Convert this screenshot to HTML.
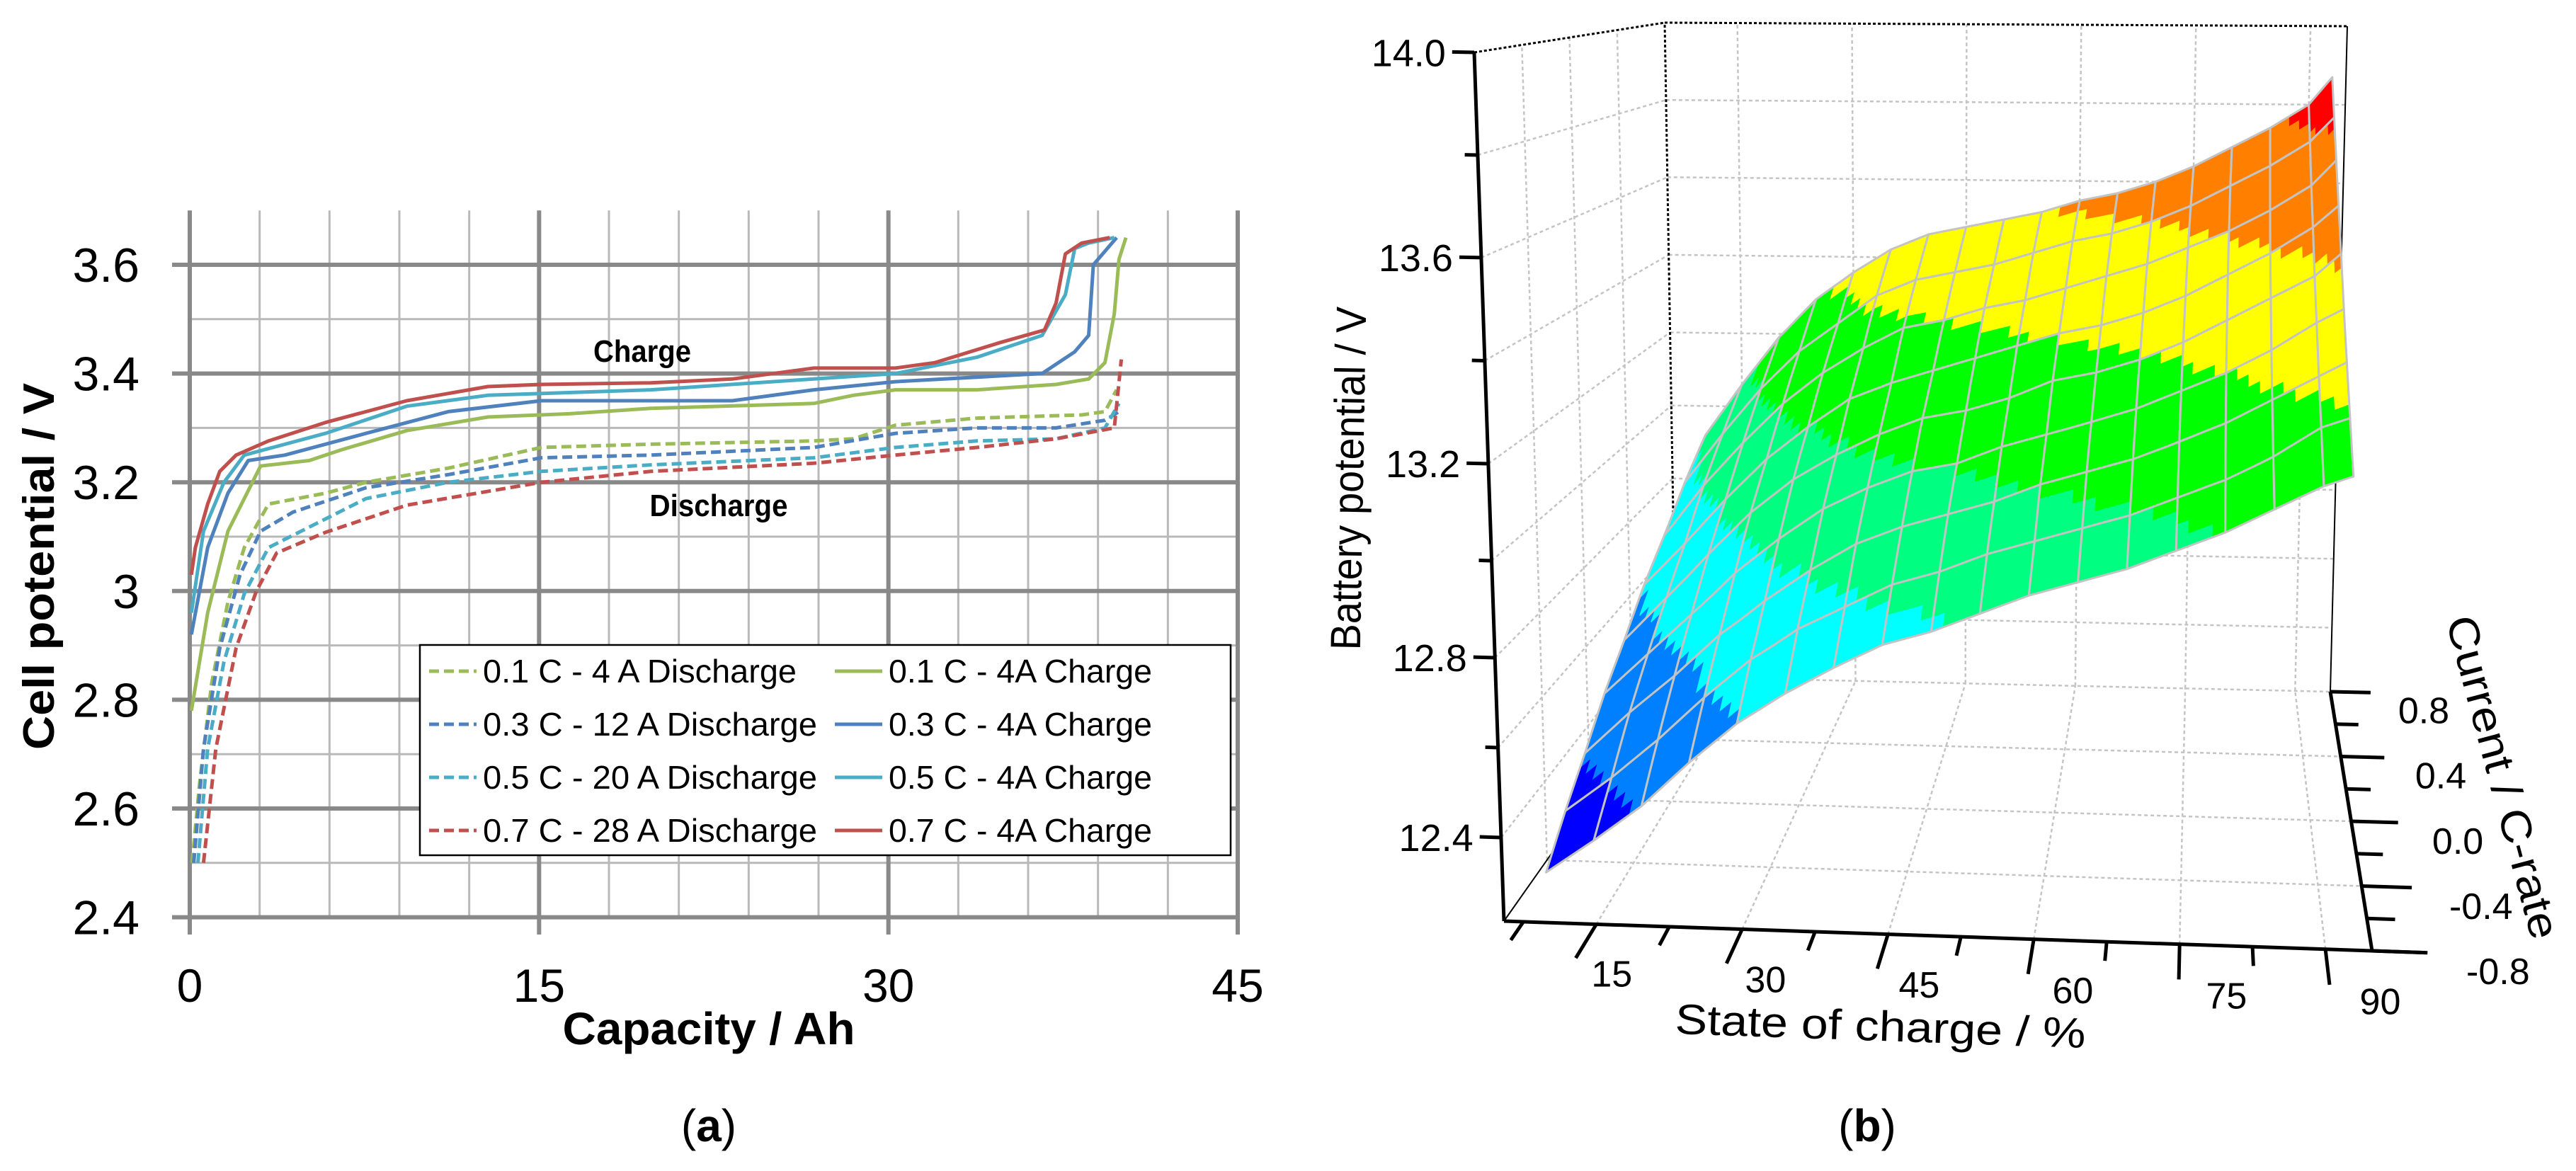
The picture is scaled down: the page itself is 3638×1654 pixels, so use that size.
<!DOCTYPE html>
<html><head><meta charset="utf-8"><style>
html,body{margin:0;padding:0;background:#fff;}
svg{display:block;}
text{font-family:"Liberation Sans",sans-serif;fill:#000;}
</style></head>
<body>
<svg id="fig" width="3638" height="1654" viewBox="0 0 3638 1654" xmlns="http://www.w3.org/2000/svg">
<rect width="3638" height="1654" fill="#fff"/>
<g id="chartA"></g>
<g id="chartB"></g>
</svg>
<script>
// ================= Chart (a) data =================
const chg01Ah=[0.07,0.77,1.64,3.04,5.13,6.53,9.32,12.8,16.3,19.8,26.8,28.5,30.3,33.8,37.2,38.6,39.3,39.7,39.9,40.2];
const chg01V=[2.78,2.96,3.11,3.23,3.24,3.26,3.295,3.32,3.326,3.336,3.345,3.36,3.37,3.37,3.38,3.39,3.42,3.51,3.61,3.65];
const chg03Ah=[0.07,0.77,1.64,2.51,4.08,7.57,11.1,15.1,23.3,26.8,30.3,36.6,38.0,38.6,38.8,39.4,39.8];
const chg03V=[2.92,3.08,3.18,3.24,3.25,3.29,3.33,3.35,3.35,3.37,3.385,3.40,3.44,3.47,3.6,3.63,3.65];
const chg05Ah=[0.07,0.59,1.47,2.34,5.83,9.32,12.8,19.8,26.8,30.3,33.8,36.6,37.6,38.0,38.6,39.7];
const chg05V=[2.96,3.11,3.2,3.25,3.29,3.34,3.36,3.37,3.39,3.40,3.43,3.47,3.545,3.63,3.64,3.65];
const chg07Ah=[0.07,0.24,0.77,1.29,1.99,3.38,5.83,9.32,12.8,15.1,19.8,23.3,26.8,30.3,32.0,34.8,36.7,37.2,37.6,38.3,39.5];
const chg07V=[3.03,3.08,3.16,3.22,3.25,3.276,3.31,3.35,3.376,3.38,3.383,3.39,3.41,3.41,3.42,3.457,3.48,3.53,3.62,3.64,3.65];
const dis01Ah=[0.1,0.42,0.94,1.64,2.34,3.38,5.83,7.57,11.1,15.1,19.8,26.8,28.5,30.3,33.8,38.3,39.3,39.8];
const dis01V=[2.5,2.645,2.83,2.98,3.08,3.16,3.18,3.2,3.226,3.264,3.27,3.276,3.28,3.305,3.318,3.324,3.33,3.37];
const dis03Ah=[0.17,0.59,1.29,2.16,3.04,4.43,7.57,11.1,15.1,19.8,26.8,30.3,33.8,37.2,39.3,39.9];
const dis03V=[2.5,2.71,2.895,3.03,3.11,3.145,3.19,3.214,3.245,3.25,3.264,3.29,3.30,3.30,3.314,3.33];
const dis05Ah=[0.35,0.77,1.47,2.34,3.38,4.78,7.57,11.1,15.1,19.8,26.8,30.3,33.8,37.2,39.3,39.9];
const dis05V=[2.5,2.71,2.87,2.995,3.08,3.11,3.17,3.2,3.22,3.232,3.245,3.264,3.276,3.28,3.30,3.345];
const dis07Ah=[0.59,1.12,1.99,2.86,3.73,5.83,9.32,15.1,19.8,26.8,30.3,33.8,37.2,39.7,40.0];
const dis07V=[2.5,2.71,2.895,3.0,3.07,3.108,3.158,3.2,3.22,3.235,3.25,3.264,3.28,3.30,3.426];
const yTickLabels=["2.4","2.6","2.8","3","3.2","3.4","3.6"];
const yTickValues=[2.4,2.6,2.8,3.0,3.2,3.4,3.6];
const xTickLabels=["0","15","30","45"];
const xTickValues=[0,15,30,45];
const legendLabels=["0.1 C - 4 A Discharge","0.3 C - 12 A Discharge","0.5 C - 20 A Discharge","0.7 C - 28 A Discharge","0.1 C - 4A Charge","0.3 C - 4A Charge","0.5 C - 4A Charge","0.7 C - 4A Charge"];

// ================= Chart (b) data =================
const socGrid=[10,15,20,25,30,35,40,45,50,55,60,65,70,75,80,85,90,93];
const cRateGrid=[-0.8,-0.6,-0.4,-0.2,0,0.2,0.4,0.6,0.8];
const voltRowM08=[12.32,12.40,12.48,12.58,12.67,12.74,12.80,12.85,12.88,12.92,12.96,12.99,13.02,13.06,13.10,13.15,13.20,13.22];
const voltRowM06=[12.40,12.48,12.57,12.67,12.76,12.83,12.88,12.93,12.96,13.00,13.03,13.06,13.09,13.13,13.17,13.22,13.28,13.30];
const voltRowM04=[12.47,12.57,12.66,12.76,12.84,12.91,12.97,13.01,13.04,13.07,13.11,13.14,13.17,13.21,13.25,13.30,13.35,13.38];
const voltRowM02=[12.55,12.65,12.75,12.85,12.93,13.00,13.05,13.09,13.11,13.15,13.18,13.21,13.24,13.28,13.32,13.37,13.43,13.46];
const voltRow00=[12.62,12.73,12.84,12.94,13.02,13.08,13.13,13.17,13.19,13.22,13.26,13.28,13.31,13.35,13.40,13.45,13.50,13.55];
const voltRowP02=[12.70,12.81,12.92,13.02,13.10,13.17,13.21,13.24,13.27,13.30,13.33,13.35,13.38,13.42,13.47,13.52,13.58,13.63];
const voltRowP04=[12.77,12.90,13.01,13.11,13.19,13.25,13.30,13.32,13.35,13.37,13.40,13.43,13.46,13.50,13.54,13.59,13.65,13.71];
const voltRowP06=[12.85,12.98,13.10,13.20,13.27,13.34,13.38,13.40,13.42,13.45,13.48,13.50,13.53,13.57,13.62,13.67,13.73,13.79];
const voltRowP08=[12.92,13.06,13.19,13.29,13.36,13.42,13.46,13.48,13.50,13.52,13.55,13.57,13.60,13.64,13.69,13.74,13.80,13.87];
const vAxisLabels=["12.4","12.8","13.2","13.6","14.0"];
const vAxisValues=[12.4,12.8,13.2,13.6,14.0];
const socLabels=["15","30","45","60","75","90"];
const socValues=[15,30,45,60,75,90];
const cRateLabels=["-0.8","-0.4","0.0","0.4","0.8"];
const cRateValues=[-0.8,-0.4,0,0.4,0.8];
const colorLevels=[12.47,12.69,12.90,13.10,13.32,13.53,13.76];

const NS="http://www.w3.org/2000/svg";
function mk(parent,tag,attrs,txt){const e=document.createElementNS(NS,tag);for(const k in attrs)e.setAttribute(k,attrs[k]);if(txt!==undefined)e.textContent=txt;parent.appendChild(e);return e;}

// ---------- Chart (a) ----------
(function(){
const g=document.getElementById('chartA');
const X=a=>268+a*(1480/45);
const Y=v=>374+(3.6-v)*768;
for(let a=3;a<45;a+=3){if(a%15===0)continue;const l=mk(g,'line',{x1:X(a),y1:Y(3.7),x2:X(a),y2:Y(2.4),stroke:'#b9b9b9','stroke-width':3});}
for(let i=0;i<13;i++){const v=2.4+i*0.1;if(i%2===0)continue;const l=mk(g,'line',{x1:X(0),y1:Y(v),x2:X(45),y2:Y(v),stroke:'#b9b9b9','stroke-width':3});}
yTickValues.forEach((v,i)=>{const l=mk(g,'line',{x1:243,y1:Y(v),x2:X(45),y2:Y(v),stroke:'#898989','stroke-width':6});
 const t=mk(g,'text',{x:197,y:Y(v)+24,'font-size':68,'text-anchor':'end'},yTickLabels[i]);});
xTickValues.forEach((a,i)=>{const l=mk(g,'line',{x1:X(a),y1:Y(3.7),x2:X(a),y2:1320,stroke:'#898989','stroke-width':6});
 const t=mk(g,'text',{x:X(a),y:1415,'font-size':66,'text-anchor':'middle'},xTickLabels[i]);});
const series=[[dis01Ah,dis01V,'#9BBB59',true],[dis03Ah,dis03V,'#4F81BD',true],[dis05Ah,dis05V,'#4BACC6',true],[dis07Ah,dis07V,'#C0504D',true],
[chg01Ah,chg01V,'#9BBB59',false],[chg03Ah,chg03V,'#4F81BD',false],[chg05Ah,chg05V,'#4BACC6',false],[chg07Ah,chg07V,'#C0504D',false]];
series.forEach((s,k)=>{const pts=s[0].map((a,i)=>X(a).toFixed(1)+','+Y(s[1][i]).toFixed(1)).join(' ');
 const p=mk(g,'polyline',{points:pts,fill:'none',stroke:s[2],'stroke-width':5,'stroke-linejoin':'round','stroke-linecap':'butt'});
 if(s[3])p.setAttribute('stroke-dasharray','14 7');
 });
let t=mk(g,'text',{x:907,y:511,'font-size':44,'font-weight':'bold','text-anchor':'middle',textLength:138,lengthAdjust:'spacingAndGlyphs'},'Charge');
t=mk(g,'text',{x:1015,y:729,'font-size':44,'font-weight':'bold','text-anchor':'middle',textLength:195,lengthAdjust:'spacingAndGlyphs'},'Discharge');
const lg=mk(g,'g',{});
mk(lg,'rect',{x:593,y:911,width:1145,height:297,fill:'#fff',stroke:'#000','stroke-width':2.5});
const rows=[948,1023,1098,1173];
const widths=[443,472,472,472,372,372,372,372];
series.forEach((s,k)=>{const col=k<4?0:1,r=k%4;const lx=col?1179:606,tx=col?1255:682;
 const l=mk(lg,'line',{x1:lx,y1:rows[r],x2:lx+67,y2:rows[r],stroke:s[2],'stroke-width':5});if(s[3])l.setAttribute('stroke-dasharray','14 7');
 
 const tt=mk(lg,'text',{x:tx,y:rows[r]+16,'font-size':46,textLength:widths[k],lengthAdjust:'spacingAndGlyphs'},legendLabels[k]);
 });
t=mk(g,'text',{x:0,y:0,'font-size':62,'font-weight':'bold','text-anchor':'middle',textLength:518,lengthAdjust:'spacingAndGlyphs',transform:'translate(76,800) rotate(-90)'},'Cell potential / V');
t=mk(g,'text',{x:1001,y:1475,'font-size':64,'font-weight':'bold','text-anchor':'middle',textLength:413,lengthAdjust:'spacingAndGlyphs'},'Capacity / Ah');
t=mk(g,'text',{x:1001,y:1612,'font-size':64,'text-anchor':'middle','font-family':'Liberation Serif, serif'});
t.innerHTML='(<tspan font-weight="bold">a</tspan>)';
})();

// ---------- Chart (b) ----------
(function(){
const g=document.getElementById('chartB');
const volt=[voltRowM08,voltRowM06,voltRowM04,voltRowM02,voltRow00,voltRowP02,voltRowP04,voltRowP06,voltRowP08];
const S0=5.5,S1=94.8;
const corner={p000:[2124,1301],p100:[3350,1343],p010:[2367,956],p110:[3291,977],p001:[2082,74],p101:[3348,100],p011:[2351,32],p111:[3315,37]};
const wV=[12.2,12.4,12.8,13.2,13.6,14.0],wP=[0,0.0962,0.3032,0.5265,0.7637,1];
function warp(V){if(V<=wV[0])return (V-12.2)/0.2*0.0962;for(let i=0;i<wV.length-1;i++){if(V<=wV[i+1]){return wP[i]+(V-wV[i])/(wV[i+1]-wV[i])*(wP[i+1]-wP[i]);}}return 1+(V-14)/0.4*0.236;}
function P(s,c,V){const u=(s-S0)/(S1-S0),v=(c+0.8)/1.6,w=warp(V);const r=[0,0];
 const cs=[[corner.p000,(1-u)*(1-v)*(1-w)],[corner.p100,u*(1-v)*(1-w)],[corner.p010,(1-u)*v*(1-w)],[corner.p110,u*v*(1-w)],[corner.p001,(1-u)*(1-v)*w],[corner.p101,u*(1-v)*w],[corner.p011,(1-u)*v*w],[corner.p111,u*v*w]];
 cs.forEach(([p,k])=>{r[0]+=p[0]*k;r[1]+=p[1]*k;});return r;}
function ln(a,b,attrs,name){const l=mk(g,'line',Object.assign({x1:a[0].toFixed(1),y1:a[1].toFixed(1),x2:b[0].toFixed(1),y2:b[1].toFixed(1)},attrs));return l;}
const grid={stroke:'#c4c4c4','stroke-width':2.5,'stroke-dasharray':'5 4'};
socValues.forEach(s=>{ln(P(s,0.8,12.2),P(s,0.8,14),grid,'back-wall-gridline');ln(P(s,-0.8,12.2),P(s,0.8,12.2),grid,'floor-gridline');});
[12.4,12.6,12.8,13.0,13.2,13.4,13.6,13.8].forEach(V=>{ln(P(S0,0.8,V),P(S1,0.8,V),grid,'back-wall-gridline');ln(P(S0,-0.8,V),P(S0,0.8,V),grid,'left-wall-gridline');});
[-0.4,0,0.4].forEach(c=>{ln(P(S0,c,12.2),P(S0,c,14),grid,'left-wall-gridline');ln(P(S0,c,12.2),P(S1,c,12.2),grid,'floor-gridline');});
ln(P(S0,0.8,12.2),P(S1,0.8,12.2),grid,'floor-back-edge');
const edge={stroke:'#000','stroke-width':3,'stroke-dasharray':'4 3'};
ln(P(S0,-0.8,14),P(S0,0.8,14),edge,'box-edge');ln(P(S0,0.8,14),P(S1,0.8,14),edge,'box-edge');
ln(P(S0,0.8,12.2),P(S0,0.8,14),edge,'box-edge');ln(P(S1,0.8,12.2),P(S1,0.8,14),{stroke:'#000','stroke-width':2},'box-edge');
ln(P(S0,-0.8,12.2),P(S0,0.8,12.2),{stroke:'#000','stroke-width':2},'box-edge');
const ax={stroke:'#000','stroke-width':5};
ln(P(S0,-0.8,12.2),P(S0,-0.8,14),ax,'v-axis-line');
ln(P(S0,-0.8,12.2),P(S1+5.7,-0.8,12.2),ax,'soc-axis-line');
ln(P(S1,0.8,12.2),P(S1,-0.8,12.2),ax,'crate-axis-line');
[12.6,13.0,13.4,13.8].forEach(V=>ln(P(S0,-0.8,V),P(S0-1.3,-0.8,V),ax,'v-axis-minor-tick'));
vAxisValues.forEach((V,i)=>{const a=P(S0,-0.8,V),b=P(S0-2.2,-0.8,V);ln(a,b,ax,'v-axis-tick');
 const t=mk(g,'text',{x:b[0]-9,y:b[1]+20,'font-size':54,'text-anchor':'end'},vAxisLabels[i]);});
for(let s=7.5;s<=90;s+=7.5){const major=s%15===0;ln(P(s,-0.8,12.2),P(s,major?-1.02:-0.92,12.2),ax,major?'soc-tick':'soc-minor-tick');}
socValues.forEach((s,i)=>{const p=P(s,-1.15,12.2);const t=mk(g,'text',{x:p[0]+68,y:p[1]+12,'font-size':52,'text-anchor':'middle'},socLabels[i]);});
for(let k=0;k<=8;k++){const c=-0.8+k*0.2;const major=k%2===0;ln(P(S1,c,12.2),P(S1+(major?5.5:3),c,12.2),ax,major?'crate-tick':'crate-minor-tick');}
cRateValues.forEach((c,i)=>{const p=P(S1+11,c,12.2);const t=mk(g,'text',{x:p[0]-18,y:p[1]+42,'font-size':52,'text-anchor':'start'},cRateLabels[i]);});
const cols=['#0000ff','#0080ff','#00ffff','#00ff80','#00ff00','#ffff00','#ff8000','#ff0000'];
function colr(V){let k=0;while(k<colorLevels.length&&V>=colorLevels[k])k++;return cols[k];}
const surf=mk(g,'g',{});
const N=4;
for(let i=cRateGrid.length-2;i>=0;i--){for(let j=0;j<socGrid.length-1;j++){
 const s0=socGrid[j],s1=socGrid[j+1],c0=cRateGrid[i],c1=cRateGrid[i+1];
 const v00=volt[i][j],v10=volt[i][j+1],v01=volt[i+1][j],v11=volt[i+1][j+1];
 const bil=(a,b)=>v00*(1-a)*(1-b)+v10*a*(1-b)+v01*(1-a)*b+v11*a*b;
 const pt=(a,b)=>P(s0+(s1-s0)*a,c0+(c1-c0)*b,bil(a,b));
 const cell=mk(surf,'g',{});
 for(let a=0;a<N;a++)for(let b=0;b<N;b++){const A=a/N,B=b/N,A2=(a+1)/N,B2=(b+1)/N;
  const q=[pt(A,B),pt(A2,B),pt(A2,B2),pt(A,B2)].map(p=>p[0].toFixed(1)+','+p[1].toFixed(1)).join(' ');
  const cc=colr(bil((A+A2)/2,(B+B2)/2));mk(cell,'polygon',{points:q,fill:cc,stroke:cc,'stroke-width':1.2});}
 const out=[];for(let a=0;a<=N;a++)out.push(pt(a/N,0));for(let b=1;b<=N;b++)out.push(pt(1,b/N));for(let a=N-1;a>=0;a--)out.push(pt(a/N,1));for(let b=N-1;b>=1;b--)out.push(pt(0,b/N));
 mk(cell,'polygon',{points:out.map(p=>p[0].toFixed(1)+','+p[1].toFixed(1)).join(' '),fill:'none',stroke:'#c3c3c3','stroke-width':3,'stroke-linejoin':'round'});
}}
let t=mk(g,'text',{x:0,y:0,'font-size':60,'text-anchor':'middle',textLength:485,lengthAdjust:'spacingAndGlyphs',transform:'translate(1925,676) rotate(-89)'},'Battery potential / V');
t=mk(g,'text',{x:0,y:0,'font-size':60,'text-anchor':'middle',textLength:580,lengthAdjust:'spacingAndGlyphs',transform:'translate(2655,1470) rotate(2)'},'State of charge / %');
t=mk(g,'text',{x:0,y:0,'font-size':60,'text-anchor':'middle',textLength:470,lengthAdjust:'spacingAndGlyphs',transform:'translate(3515,1103) rotate(75)'},'Current / C-rate');
t=mk(g,'text',{x:2637,y:1612,'font-size':64,'text-anchor':'middle','font-family':'Liberation Serif, serif'});
t.innerHTML='(<tspan font-weight="bold">b</tspan>)';
})();
</script>
</body></html>
